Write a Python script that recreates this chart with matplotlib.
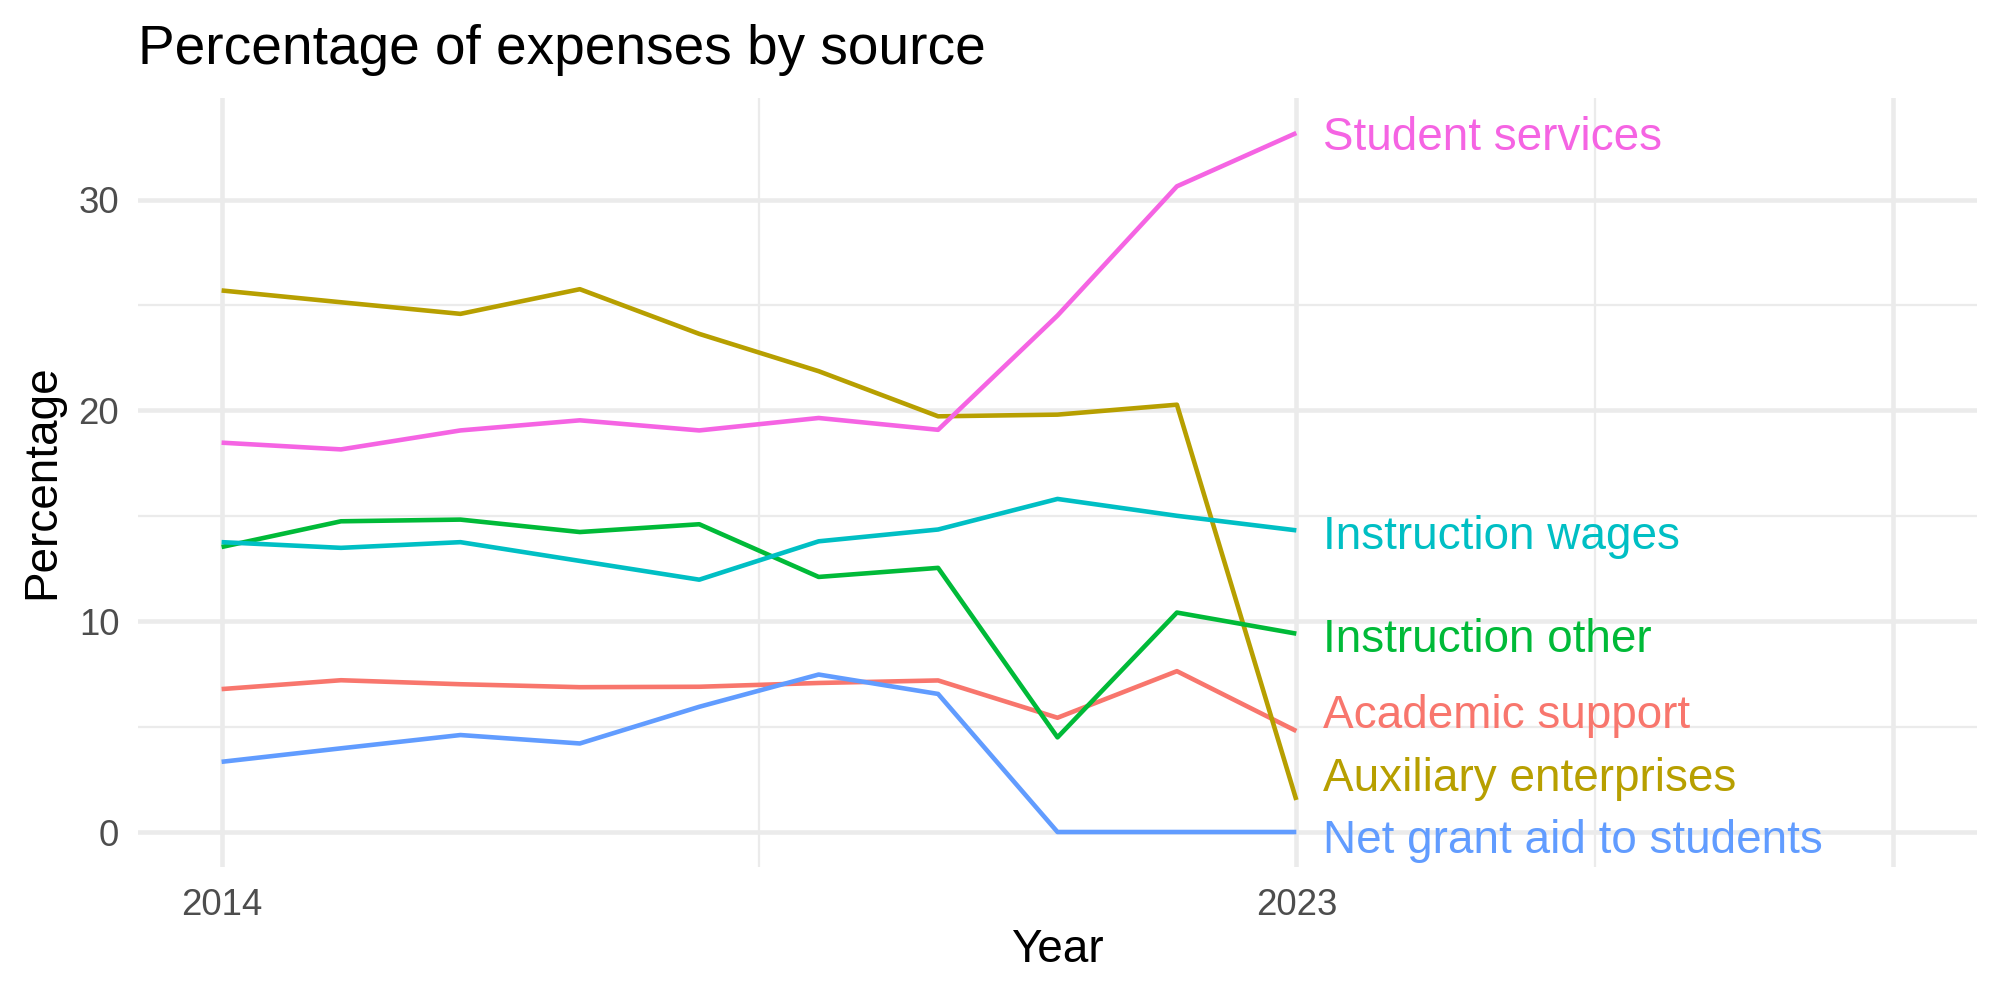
import matplotlib
matplotlib.use("Agg")
import matplotlib.pyplot as plt

plt.rcParams['font.family'] = ['Liberation Sans', 'DejaVu Sans']

years = [2014, 2015, 2016, 2017, 2018, 2019, 2020, 2021, 2022, 2023]

sources = ["Academic support", "Auxiliary enterprises", "Instruction other",
           "Instruction wages", "Net grant aid to students", "Student services"]

academic_support = [6.78, 7.20, 7.01, 6.87, 6.89, 7.07, 7.19, 5.42, 7.63, 4.79]
auxiliary        = [25.69, 25.13, 24.58, 25.75, 23.63, 21.86, 19.72, 19.80, 20.27, 1.52]
instr_other      = [13.52, 14.74, 14.82, 14.23, 14.60, 12.10, 12.53, 4.49, 10.41, 9.41]
instr_wages      = [13.75, 13.48, 13.75, 12.86, 11.97, 13.79, 14.35, 15.80, 15.00, 14.31]
net_grant        = [3.33, 3.97, 4.60, 4.20, 5.94, 7.47, 6.55, 0.0, 0.0, 0.0]
student_services = [18.47, 18.15, 19.05, 19.53, 19.05, 19.64, 19.08, 24.50, 30.63, 33.16]

series = [academic_support, auxiliary, instr_other, instr_wages, net_grant, student_services]
colors = ["#F8766D", "#B79F00", "#00BA38", "#00BFC4", "#619CFF", "#F564E3"]

# repelled label heights at the end of each line
label_y = [5.75, 2.75, 9.34, 14.22, -0.2, 33.16]

fig = plt.figure(figsize=(2000 / 300, 1000 / 300), dpi=300)
ax = fig.add_axes([0.069, 0.133, 0.9195, 0.769])

for vals, col in zip(series, colors):
    ax.plot(years, vals, color=col, linewidth=1.1, solid_capstyle="butt", zorder=3)

for name, ly, col in zip(sources, label_y, colors):
    ax.text(years[-1] + 0.22, ly, name, color=col, fontsize=11,
            ha="left", va="center_baseline", clip_on=False, zorder=4)

ax.set_xlim(2013.3, 2028.7)
ax.set_ylim(-1.66, 34.82)

ax.set_xticks([2014, 2023, 2028])
ax.set_xticklabels(["2014", "2023", ""])
ax.set_xticks([2018.5, 2025.5], minor=True)
ax.set_yticks([0, 10, 20, 30])
ax.set_yticks([5, 15, 25], minor=True)

ax.grid(which="major", color="#EBEBEB", linewidth=1.1)
ax.grid(which="minor", color="#EBEBEB", linewidth=0.55)
ax.set_axisbelow(True)
for s in ax.spines.values():
    s.set_visible(False)
ax.tick_params(which="both", length=0)
ax.tick_params(axis="x", labelsize=8.8, labelcolor="#4D4D4D", pad=5)
ax.tick_params(axis="y", labelsize=8.8, labelcolor="#4D4D4D", pad=4.5)

fig.text(0.069, 0.936, "Percentage of expenses by source", fontsize=13.2,
         ha="left", va="baseline")
fig.text(0.069 + 0.9195 / 2, 0.05, "Year", fontsize=11, ha="center", va="center")
fig.text(0.021, 0.518, "Percentage", fontsize=11, rotation=90, ha="center", va="center")

fig.savefig("out.png", dpi=300)
